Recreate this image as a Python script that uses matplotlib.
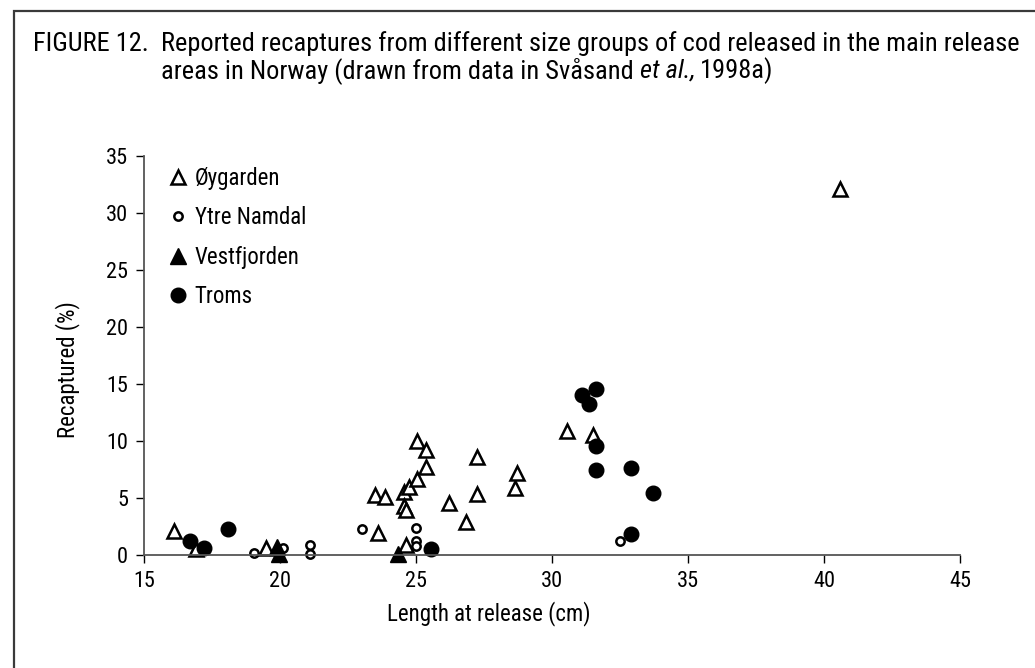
import matplotlib
matplotlib.use("Agg")
import matplotlib.pyplot as plt
from matplotlib import font_manager
from matplotlib.lines import Line2D
from matplotlib.patches import Rectangle

# length at release (cm) and recaptured (%) for each release area
oygarden_len = [16.1, 16.9, 19.5, 23.5, 23.6, 23.85, 24.55, 24.55, 24.65, 24.65, 24.75, 25.05,
                25.05, 25.35, 25.35, 26.2, 26.85, 27.25, 27.25, 28.65, 28.7, 30.55, 31.5, 40.6]
oygarden_rec = [2.1, 0.5, 0.6, 5.3, 1.9, 5.05, 5.55, 4.3, 3.95, 0.85, 5.95, 6.65,
                10.0, 9.2, 7.75, 4.55, 2.85, 8.55, 5.35, 5.85, 7.2, 10.9, 10.5, 32.1]

namdal_len = [19.05, 20.1, 21.1, 21.1, 23.0, 25.0, 25.0, 25.0, 32.5]
namdal_rec = [0.15, 0.6, 0.9, 0.1, 2.3, 2.4, 1.2, 0.8, 1.2]

vestfjorden_len = [19.9, 19.95, 24.35]
vestfjorden_rec = [0.7, 0.05, 0.05]

troms_len = [16.7, 17.2, 18.1, 25.55, 31.1, 31.35, 31.6, 31.6, 31.6, 32.9, 32.9, 33.7]
troms_rec = [1.2, 0.6, 2.25, 0.5, 14.0, 13.25, 14.5, 9.55, 7.45, 7.6, 1.85, 5.45]

series_names = ["\u00d8ygarden", "Ytre Namdal", "Vestfjorden", "Troms"]
x_ticks = [15, 20, 25, 30, 35, 40, 45]
y_ticks = [0, 5, 10, 15, 20, 25, 30, 35]

caption_1 = "Reported recaptures from different size groups of cod released in the main release"
caption_2 = "areas in Norway (drawn from data in Sv\u00e5sand "

# pick a condensed face if one is installed, otherwise a narrow-ish sans
entries = font_manager.fontManager.ttflist
names = {f.name for f in entries}
STRETCH = "normal"
FONT = None
for cand in ["Liberation Sans Narrow", "Roboto Condensed", "Open Sans Condensed",
             "Noto Sans Condensed", "DejaVu Sans Condensed"]:
    if cand in names:
        FONT = cand
        break
if FONT is None:
    if any(f.name == "DejaVu Sans" and str(f.stretch) in ("condensed", "semi-condensed")
           for f in entries):
        FONT, STRETCH = "DejaVu Sans", "condensed"
    elif "Roboto" in names:
        FONT = "Roboto"
    else:
        FONT = "DejaVu Sans"
plt.rcParams["font.family"] = [FONT, "DejaVu Sans"]
plt.rcParams["font.stretch"] = STRETCH

W, H = 1035, 668
fig = plt.figure(figsize=(W / 100, H / 100), dpi=100)
fig.patch.set_facecolor("white")
rend = fig.canvas.get_renderer()

# frame around the whole figure (right/bottom run off the page)
fig.patches.append(Rectangle((14 / W, -0.1), 1.2, 1 - 11 / H + 0.1, transform=fig.transFigure,
                             fill=False, edgecolor="#3a3a3a", linewidth=1.6))

# caption, sized so the first line spans the same width as the reference
X0 = 161 / W
Y1, Y2 = 1 - 51 / H, 1 - 78 / H
t0 = fig.text(X0, Y1, caption_1, fontsize=17, va="baseline")
wid = t0.get_window_extent(rend).width
TS = min(20, 17 * 857 / wid)
t0.set_fontsize(TS)
fig.text(33 / W, Y1, "FIGURE 12.", fontsize=TS, va="baseline")
t1 = fig.text(X0, Y2, caption_2, fontsize=TS, va="baseline")
bb = t1.get_window_extent(rend)
t2 = fig.text(bb.x1 / W, Y2, "et al.,", fontsize=TS, va="baseline", style="italic")
bb2 = t2.get_window_extent(rend)
fig.text(bb2.x1 / W + 5 / W, Y2, "1998a)", fontsize=TS, va="baseline")

ax = fig.add_axes([144 / W, 1 - 555 / H, 816 / W, 399.5 / H])

tri_open = dict(marker="^", ms=10, mfc="white", mec="black", mew=1.8, ls="none")
circ_open = dict(marker="o", ms=6, mfc="white", mec="black", mew=1.8, ls="none")
tri_fill = dict(marker="^", ms=11.5, mfc="black", mec="black", mew=1, ls="none")
circ_fill = dict(marker="o", ms=10.5, mfc="black", mec="black", mew=1, ls="none")

ax.plot(oygarden_len, oygarden_rec, clip_on=False, **tri_open)
ax.plot(namdal_len, namdal_rec, clip_on=False, **circ_open)
ax.plot(vestfjorden_len, vestfjorden_rec, clip_on=False, **tri_fill)
ax.plot(troms_len, troms_rec, clip_on=False, **circ_fill)

ax.set_xlim(15, 45)
ax.set_ylim(0, 35)
ax.set_xticks(x_ticks)
ax.set_yticks(y_ticks)
ax.tick_params(direction="out", length=5.5, width=1, color="black", labelsize=16, pad=6)

for side in ["top", "right"]:
    ax.spines[side].set_visible(False)
for side in ["left", "bottom"]:
    ax.spines[side].set_color("#555555")
    ax.spines[side].set_linewidth(1.3)

ax.set_xlabel("Length at release (cm)", fontsize=16.5)
ax.set_ylabel("Recaptured (%)", fontsize=16.5)
ax.xaxis.set_label_coords(0.423, -0.115)
ax.yaxis.set_label_coords(-0.078, 0.463)

handles = [Line2D([], [], **tri_open), Line2D([], [], **circ_open),
           Line2D([], [], **tri_fill), Line2D([], [], **circ_fill)]
ax.legend(handles, series_names, loc="upper left", bbox_to_anchor=(0.031, 0.972),
          frameon=False, fontsize=16.5, handlelength=0.8, handletextpad=0.3,
          labelspacing=0.72, borderaxespad=0, borderpad=0)

fig.savefig("out.png", dpi=100, facecolor="white")
